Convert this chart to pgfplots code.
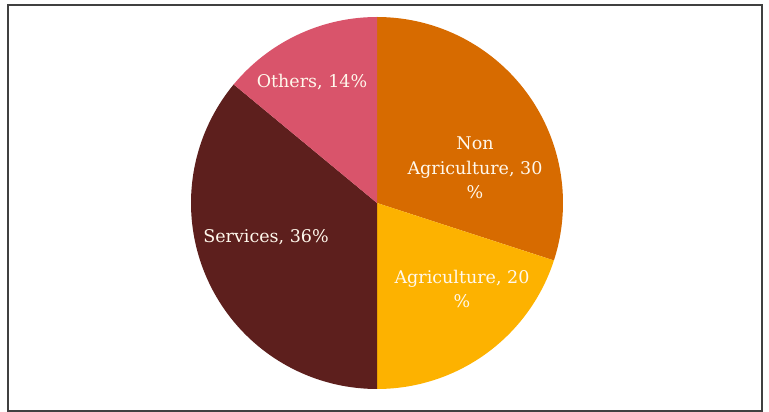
\documentclass[border=0pt]{standalone}
\usepackage{fontspec}
\setmainfont{DejaVu Serif}
\usepackage{pgfplots}
\pgfplotsset{compat=1.18}
\definecolor{cNon}{HTML}{D76B00}
\definecolor{cAgr}{HTML}{FDB200}
\definecolor{cSer}{HTML}{5D1F1D}
\definecolor{cOth}{HTML}{D9546B}
\definecolor{cTxt}{HTML}{FFF8EC}
\begin{document}
\begin{tikzpicture}
\def\cx{377}\def\cy{209}\def\rr{186}
% shares in percent: Non Agriculture 30, Agriculture 20, Services 36, Others 14
\pgfmathsetmacro\aA{90}
\pgfmathsetmacro\aB{90-3.6*30}
\pgfmathsetmacro\aC{\aB-3.6*20}
\pgfmathsetmacro\aD{\aC-3.6*36}
\pgfmathsetmacro\aE{\aD-3.6*14}
\begin{axis}[
  width=769pt, height=412pt, scale only axis,
  xmin=0, xmax=769, ymin=0, ymax=412,
  hide axis, clip=false,
]
\path (axis cs:0,0) rectangle (axis cs:769,412);
\draw[draw=black!75, line width=1.3pt] (axis cs:8,1) rectangle (axis cs:762,407);
\addplot[fill=cNon, draw=none, domain=\aA:\aB, samples=90] ({\cx+\rr*cos(x)},{\cy+\rr*sin(x)}) -- (axis cs:\cx,\cy) -- cycle;
\addplot[fill=cAgr, draw=none, domain=\aB:\aC, samples=90] ({\cx+\rr*cos(x)},{\cy+\rr*sin(x)}) -- (axis cs:\cx,\cy) -- cycle;
\addplot[fill=cSer, draw=none, domain=\aC:\aD, samples=120] ({\cx+\rr*cos(x)},{\cy+\rr*sin(x)}) -- (axis cs:\cx,\cy) -- cycle;
\addplot[fill=cOth, draw=none, domain=\aD:\aE, samples=60] ({\cx+\rr*cos(x)},{\cy+\rr*sin(x)}) -- (axis cs:\cx,\cy) -- cycle;
\begin{scope}[every node/.style={text=cTxt, align=center, font=\fontsize{17.5}{24.5}\selectfont}]
\node at (axis cs:312,330) {Others, 14\%};
\node at (axis cs:475,244) {Non\\Agriculture, 30\\\%};
\node at (axis cs:462,123) {Agriculture, 20\\\%};
\node at (axis cs:266,175) {Services, 36\%};
\end{scope}
\end{axis}
\end{tikzpicture}
\end{document}
